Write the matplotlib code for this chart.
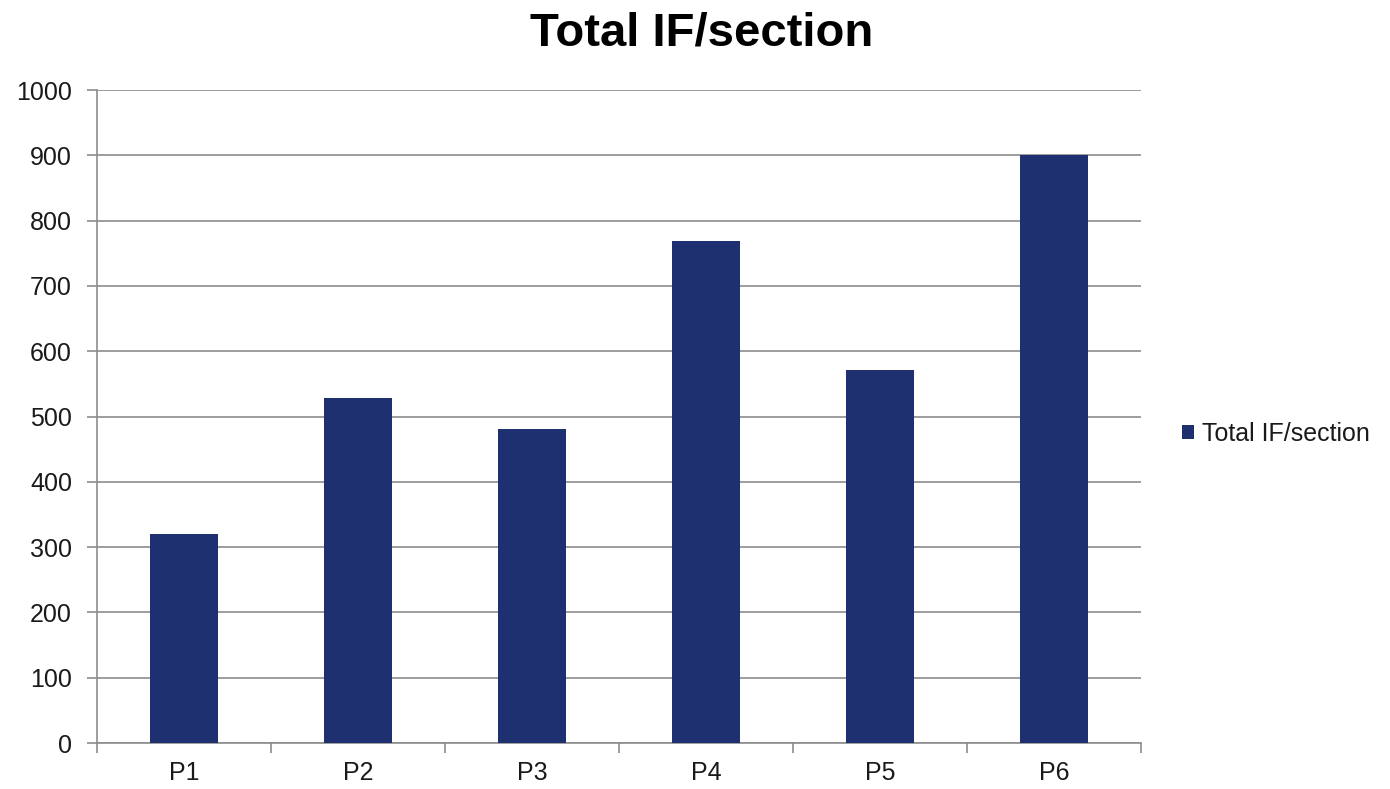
import matplotlib.pyplot as plt
import numpy as np
from matplotlib.ticker import FixedLocator

plt.rcParams['font.family'] = ['Liberation Sans', 'DejaVu Sans']

categories = ["P1", "P2", "P3", "P4", "P5", "P6"]
values = [320, 528, 481, 769, 571, 900]
series_name = "Total IF/section"
y_ticks = [0, 100, 200, 300, 400, 500, 600, 700, 800, 900, 1000]

bar_color = "#1f3071"
grid_color = "#8c8c8c"

fig = plt.figure(figsize=(13.9, 7.89), dpi=100)
ax = fig.add_axes([0.0698, 0.0583, 0.7511, 0.8276])

x = np.arange(len(categories))
ax.bar(x, values, width=0.39, color=bar_color, label=series_name, zorder=3)

ax.set_xlim(-0.5, len(categories) - 0.5)
ax.set_ylim(0, 1000)
ax.set_yticks(y_ticks)
ax.set_xticks(x)
ax.set_xticklabels(categories)
ax.xaxis.set_minor_locator(FixedLocator(np.arange(-0.5, len(categories), 1.0)))

ax.yaxis.grid(True, color=grid_color, linewidth=1.2, zorder=0)
for side in ("top", "right"):
    ax.spines[side].set_visible(False)
for side in ("left", "bottom"):
    ax.spines[side].set_color(grid_color)
    ax.spines[side].set_linewidth(1.2)

ax.tick_params(axis="y", direction="out", length=7, width=1.2, color=grid_color,
               labelsize=18, labelcolor="#1a1a1a", pad=11)
ax.tick_params(axis="x", which="major", length=0, labelsize=18,
               labelcolor="#1a1a1a", pad=13)
ax.tick_params(axis="x", which="minor", direction="out", length=7, width=1.2,
               color=grid_color)

fig.text(0.505, 0.958, series_name, ha="center", va="center",
         fontsize=34, fontweight="bold", color="#000000")

leg = fig.legend(loc="center left", bbox_to_anchor=(0.834, 0.45), frameon=False,
                 fontsize=18, handlelength=0.5, handleheight=0.5,
                 handletextpad=0.3, labelcolor="#1a1a1a")

fig.savefig("out.png", dpi=100, facecolor="white")
